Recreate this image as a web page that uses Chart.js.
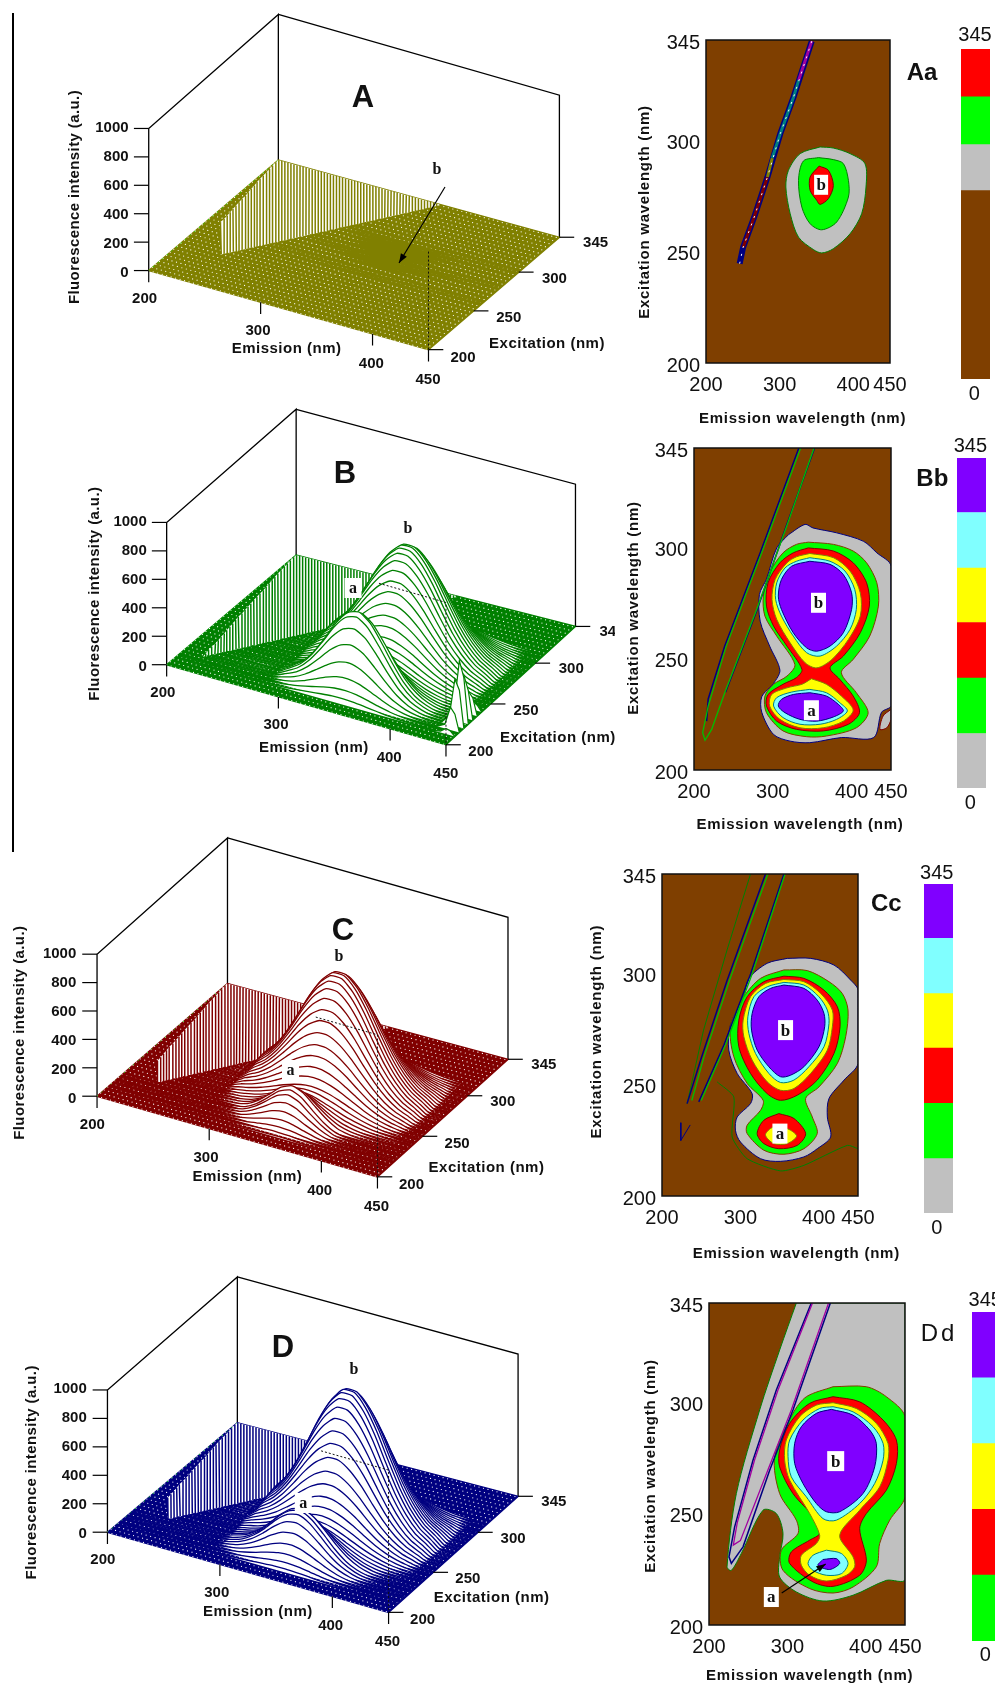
<!DOCTYPE html>
<html>
<head>
<meta charset="utf-8">
<title>Fluorescence EEM panels</title>
<script src="https://cdn.jsdelivr.net/npm/chart.js@4"></script>
<style>
html, body { margin: 0; background: #fff; width: 995px; height: 1686px; overflow: hidden; position: relative; }
canvas { position: absolute; }
#rule { position: absolute; left: 12px; top: 13px; width: 1.5px; height: 839px; background: #000; }
</style>
</head>
<body>
<div id="rule"></div>
<script>
// axis ticks
const emTicks = [200, 300, 400, 450];
const exTicks = [200, 250, 300, 345];
const intensityTicks = [0, 200, 400, 600, 800, 1000];

const gridEm = [200,204,208,212,216,220,224,228,232,236,240,244,248,252,256,260,264,268,272,276,280,284,288,292,296,300,304,308,312,316,320,324,328,332,336,340,344,348,352,356,360,364,368,372,376,380,384,388,392,396,400,404,408,412,416,420,424,428,432,436,440,444,448];
const gridEx = [200,204,208,212,216,220,224,228,232,236,240,244,248,252,256,260,264,268,272,276,280,284,288,292,296,300,304,308,312,316,320,324,328,332,336,340,344];

// surface rows: intensity at each emission column, back row first
const rowEm = [290,300,310,320,330,340,350,360,370,380,390,400,410,420,430];
const rowEx = [310,307.5,305,302.5,300,297.5,295,292.5,290,287.5,285,282.5,280,277.5,275,272.5,270,267.5,265,262.5,260,257.5,255,252.5,250,247.5,245,242.5,240,237.5,235,232.5,230,227.5,225,222.5,220,217.5,215,212.5,210];

const aRowEx = [305,300,295,290,285,280,275,270,265,260,255,250];
const aRows = [
  [0,1,1,2,4,5,6,6,5,4,2,1,1,0,0],
  [1,2,3,5,7,10,12,12,10,7,5,3,2,1,0],
  [1,3,5,8,13,17,20,20,17,13,8,5,3,1,1],
  [2,5,8,14,22,29,35,35,29,22,14,8,5,2,1],
  [3,7,12,20,31,41,49,49,41,31,20,12,7,3,2],
  [4,8,14,24,36,48,58,58,48,36,24,14,8,4,2],
  [4,7,13,22,32,43,52,52,43,32,22,13,7,4,2],
  [3,6,10,17,25,34,41,41,34,25,17,10,6,3,1],
  [2,4,7,12,18,24,29,29,24,18,12,7,4,2,1],
  [1,2,4,7,11,14,17,17,14,11,7,4,2,1,1],
  [1,1,2,4,5,7,9,9,7,5,4,2,1,1,0],
  [0,1,1,2,3,4,5,5,4,3,2,1,1,0,0]
];

const bRows = [
  [12,21,34,51,68,83,91,91,83,68,51,34,21,12,6],
  [16,28,46,68,91,110,122,122,110,91,68,46,28,16,8],
  [21,37,60,89,120,145,160,160,145,120,89,60,37,21,10],
  [26,48,77,114,154,186,205,205,186,154,114,77,48,26,14],
  [33,60,97,144,194,234,259,259,234,194,144,97,60,33,17],
  [41,74,120,178,239,289,320,320,289,239,178,120,74,41,21],
  [49,88,142,212,285,344,380,380,344,285,212,142,88,49,25],
  [58,104,168,250,336,407,449,449,407,336,250,168,104,58,30],
  [67,120,194,288,388,468,517,517,468,388,288,194,120,67,34],
  [74,134,217,322,433,524,578,578,524,433,322,217,134,74,38],
  [82,148,239,356,479,579,639,639,579,479,356,239,148,82,42],
  [89,160,259,386,519,627,693,693,627,519,386,259,160,89,46],
  [94,169,274,407,547,661,731,731,661,547,407,274,169,94,48],
  [97,174,282,420,564,682,753,753,682,564,420,282,174,97,50],
  [98,176,285,424,570,689,761,761,689,570,424,285,176,98,50],
  [97,174,282,420,564,682,753,753,682,564,420,282,174,97,50],
  [94,169,274,407,547,661,731,731,661,547,407,274,169,94,48],
  [89,160,259,386,519,627,693,693,627,519,386,259,160,89,46],
  [82,148,239,356,479,579,639,639,579,479,356,239,148,82,42],
  [74,134,217,322,433,524,578,578,524,433,322,217,134,74,38],
  [67,120,194,288,388,468,517,517,468,388,288,194,120,67,34],
  [58,104,168,250,336,407,449,449,407,336,250,168,104,58,30],
  [49,88,142,212,285,344,380,380,344,285,212,142,88,49,25],
  [41,74,120,178,239,289,320,320,289,239,178,120,74,41,21],
  [33,60,97,144,194,234,259,259,234,194,144,97,60,33,17],
  [27,50,82,121,165,199,218,217,195,160,118,79,49,26,14],
  [24,43,71,106,145,175,191,188,167,135,97,64,39,22,10],
  [21,40,69,105,143,172,187,181,156,122,86,55,32,17,9],
  [22,43,76,119,164,199,213,201,168,125,84,51,28,14,7],
  [26,54,98,155,215,260,276,256,208,149,94,54,28,13,7],
  [32,67,125,201,281,339,359,328,260,182,111,60,29,12,6],
  [39,85,159,257,361,436,459,417,328,226,134,70,33,12,6],
  [45,97,185,299,420,508,534,483,378,257,151,78,35,13,7],
  [46,100,191,311,438,529,555,500,388,261,150,75,33,11,5],
  [44,96,183,299,420,508,533,480,372,251,144,72,32,11,5],
  [38,84,159,260,366,442,463,418,324,218,125,63,28,9,4],
  [30,65,124,202,285,344,361,325,252,170,98,49,21,7,3],
  [21,45,86,140,197,238,250,225,175,117,68,34,15,5,2],
  [13,28,53,87,123,148,155,140,109,73,42,21,9,3,1],
  [7,16,30,48,68,82,86,78,60,40,23,12,5,2,1],
  [3,8,15,24,33,40,42,38,29,20,11,6,3,1,0]
];

const cRows = [
  [12,22,36,53,71,86,95,95,86,71,53,36,22,12,6],
  [16,29,47,70,95,115,126,126,115,95,70,47,29,16,8],
  [21,38,62,92,124,150,166,166,150,124,92,62,38,21,11],
  [28,49,80,119,160,193,213,213,193,160,119,80,49,28,14],
  [35,62,101,150,201,243,269,269,243,201,150,101,62,35,18],
  [43,76,124,185,249,301,332,332,301,249,185,124,76,43,22],
  [51,91,148,220,296,358,395,395,358,296,220,148,91,51,26],
  [60,107,175,260,349,422,466,466,422,349,260,175,107,60,31],
  [69,124,201,299,403,487,537,537,487,403,299,201,124,69,35],
  [78,138,225,334,450,544,600,600,544,450,334,225,138,78,40],
  [86,153,249,370,497,601,664,664,601,497,370,249,153,86,44],
  [93,166,269,400,539,652,719,719,652,539,400,269,166,93,47],
  [98,175,284,422,568,687,758,758,687,568,422,284,175,98,50],
  [101,180,293,436,586,709,782,782,709,586,436,293,180,101,51],
  [102,182,296,440,592,716,790,790,716,592,440,296,182,102,52],
  [101,180,293,436,586,709,782,782,709,586,436,293,180,101,51],
  [98,175,284,422,568,687,758,758,687,568,422,284,175,98,50],
  [93,166,269,400,539,652,719,719,652,539,400,269,166,93,47],
  [86,153,249,370,497,601,664,664,601,497,370,249,153,86,44],
  [78,138,225,334,450,544,600,600,544,450,334,225,138,78,40],
  [69,124,201,299,403,487,537,537,487,403,299,201,124,69,35],
  [60,107,175,260,349,422,466,466,422,349,260,175,107,60,31],
  [51,91,148,220,296,358,395,395,358,296,220,148,91,51,26],
  [43,76,124,185,249,301,332,332,301,249,185,124,76,43,22],
  [35,62,101,150,201,243,269,269,243,201,150,101,62,35,18],
  [28,49,80,119,160,193,213,213,193,160,119,80,49,28,14],
  [21,38,62,92,124,150,166,166,150,124,92,62,38,21,11],
  [16,30,50,78,110,138,153,149,130,103,73,48,29,16,8],
  [12,24,41,68,100,130,146,139,115,86,58,38,22,12,6],
  [10,19,36,67,105,144,163,151,116,80,49,30,17,9,5],
  [7,15,33,68,116,165,188,170,124,77,42,23,12,6,3],
  [7,14,32,74,133,194,222,198,138,81,39,19,10,5,2],
  [5,12,31,77,144,213,245,216,147,82,35,16,7,3,2],
  [2,7,23,67,131,200,230,200,131,67,23,7,2,0,0],
  [2,6,21,61,119,182,209,182,119,61,21,6,2,0,0],
  [1,5,17,49,96,146,168,146,96,49,17,5,1,0,0],
  [1,4,12,35,68,104,120,104,68,35,12,4,1,0,0],
  [1,2,7,22,43,65,75,65,43,22,7,2,1,0,0],
  [0,1,4,12,24,36,41,36,24,12,4,1,0,0,0],
  [0,1,2,6,11,17,20,17,11,6,2,1,0,0,0],
  [0,0,1,3,5,8,9,8,5,3,1,0,0,0,0]
];

const dRows = [
  [14,26,42,62,84,101,111,111,101,84,62,42,26,14,7],
  [19,34,56,83,111,135,149,149,135,111,83,56,34,19,10],
  [25,45,73,109,146,177,195,195,177,146,109,73,45,25,13],
  [32,58,94,140,188,227,251,251,227,188,140,94,58,32,16],
  [40,73,118,176,237,286,316,316,286,237,176,118,73,40,21],
  [50,90,146,217,292,353,390,390,353,292,217,146,90,50,26],
  [60,107,174,259,348,421,465,465,421,348,259,174,107,60,31],
  [70,126,205,305,411,496,548,548,496,411,305,205,126,70,36],
  [81,146,237,352,473,572,632,632,572,473,352,237,146,81,41],
  [90,163,264,393,529,639,706,706,639,529,393,264,163,90,46],
  [100,180,292,434,585,706,780,780,706,585,434,292,180,100,51],
  [108,195,317,470,633,765,845,845,765,633,470,317,195,108,56],
  [114,205,334,496,668,807,892,892,807,668,496,334,205,114,59],
  [118,212,345,512,689,833,920,920,833,689,512,345,212,118,60],
  [119,214,348,517,696,841,929,929,841,696,517,348,214,119,61],
  [118,212,345,512,689,833,920,920,833,689,512,345,212,118,60],
  [114,205,334,496,668,807,892,892,807,668,496,334,205,114,59],
  [108,195,317,470,633,765,845,845,765,633,470,317,195,108,56],
  [100,180,292,434,585,706,780,780,706,585,434,292,180,100,51],
  [90,163,264,393,529,639,706,706,639,529,393,264,163,90,46],
  [81,146,237,352,473,572,632,632,572,473,352,237,146,81,41],
  [70,126,205,305,411,496,548,548,496,411,305,205,126,70,36],
  [60,107,174,259,348,421,465,465,421,348,259,174,107,60,31],
  [50,90,146,217,292,353,390,390,353,292,217,146,90,50,26],
  [40,73,118,176,237,286,316,316,286,237,176,118,73,40,21],
  [32,59,96,144,194,235,259,258,232,191,142,95,58,32,16],
  [26,48,78,118,160,195,214,212,189,154,113,75,46,25,13],
  [21,39,67,103,141,172,189,184,161,127,91,60,35,19,10],
  [18,36,63,99,140,171,185,176,149,114,78,49,29,15,7],
  [18,36,67,110,158,195,210,195,158,114,74,43,24,12,5],
  [17,38,76,127,186,231,247,224,176,121,73,40,20,9,4],
  [19,44,89,152,225,281,298,268,206,136,78,40,19,7,3],
  [21,47,98,171,254,317,336,299,226,147,82,39,17,7,2],
  [18,45,96,168,253,317,335,295,219,137,72,32,12,3,0],
  [17,43,92,161,243,304,322,283,210,132,69,31,12,3,0],
  [15,38,80,140,211,265,280,246,183,114,60,27,10,3,0],
  [12,29,62,109,164,206,218,192,142,89,47,21,8,2,0],
  [8,20,43,76,114,143,151,133,99,62,32,14,5,1,0],
  [5,13,27,47,71,89,94,83,61,38,20,9,3,1,0],
  [3,7,15,26,39,49,52,46,34,21,11,5,2,0,0],
  [1,3,7,13,19,24,25,22,17,10,5,2,1,0,0]
];

// little fin at the front right corner of panel B
const finEm = [430,437,442,446,450];
const finEx = [240,235,230,225,220,215,210];
const finRows = [
  [0,20,60,40,0],
  [0,40,160,120,0],
  [0,60,300,200,0],
  [0,80,430,320,0],
  [0,60,330,260,0],
  [0,30,160,120,0],
  [0,10,40,30,0]
];

// stripes above the scatter ridge: ridge position, and where each stripe ends
const ridgeEm = [218,219.5,221,222.5,224,225.5,227,228.5,230,231.5,233,234.5,236,237.5,239,240.5,242,243.5,245,246.5,248,249.5,251,252.5,254,255.5,257,258.5,260,261.5,263,264.5,266,267.5,269,270.5,272,273.5,275,276.5,278,279.5,281,282.5,284,285.5,287,288.5,290,291.5,293,294.5,296,297.5,299,300.5,302,303.5,305,306.5,308,309.5,311,312.5,314,315.5,317,318.5,320,321.5,323,324.5,326,327.5,329,330.5,332,333.5,335,336.5,338,339.5,341,342.5,344];
const stripeEndEm = [218,217.3,216.5,216,216,215.3,214.5,214,213,212.4,211.7,211,210,210,209.4,208.8,208,207.3,206.8,206.2,206,205.2,204.5,204,203,202.4,202,201.6,201,200.4,200,200.4,203.1,205.8,208.5,211.2,213.9,216.6,219.3,222,224.7,227.4,230.1,232.8,235.5,238.2,240.9,243.6,246.3,249,251.7,254.4,257.1,259.8,262.5,265.2,267.9,270.6,273.3,276,278.7,281.4,284.1,286.8,289.5,292.2,294.9,297.6,300.3,303,305.7,308.4,311.1,313.8,316.5,319.2,321.9,324.6,327.3,330,332.7,335.4,338.1,340.8,343.5];
const stripeEndEx = [218,222.1,226.3,230.4,234.6,238.7,242.8,247,251,255.3,259.4,263.5,267.7,271.8,276,280.1,284.2,288.4,292.5,296.7,300.8,304.9,309.1,313.2,317.4,321.5,325.6,329.8,333.9,338,342.2,345,345,345,345,345,345,345,345,345,345,345,345,345,345,345,345,345,345,345,345,345,345,345,345,345,345,345,345,345,345,345,345,345,345,345,345,345,345,345,345,345,345,345,345,345,345,345,345,345,345,345,345,345,345];

// colour bars, bottom segment first
const aBarValues = [197,48,50,50];
const bBarValues = [57,58,58,57,58,57];
const cBarValues = [57,58,58,57,58,57];
const dBarValues = [69,69,69,69,69];

// contours as [emission, excitation]
const aGray = [[355,297],[328,294],[312,286.5],[308.5,279],[314.4,267],[325.7,256.5],[346,250.9],[357.3,249.4],[373,251.3],[395.7,258],[411.5,267],[417.4,279],[416,289.5],[395.7,294],[373,296.5]];
const aGreen = [[352.8,292.2],[332.4,290.7],[325.7,282],[330.2,270],[341.5,262.5],[357.3,259.8],[377.6,263.3],[393.5,274.5],[393.5,282],[386.7,289.5],[373,291.3]];
const aRed = [[353.7,288.4],[341.5,283.5],[341.5,277.5],[350.5,273],[355,271.2],[366.3,273.8],[373,279.7],[366.3,286.5]];
const aStreak = [[245.7,244.6],[250.5,252],[265.5,265.5],[283.5,283.5],[301,303],[319,319.4],[343.7,344.5]];
const aStreakRed = [[250.5,252],[265.5,265.5],[283.5,283.5]];
const aStreakOlive = [[283.5,283.5],[290,292]];
const aStreakTeal = [[290,292],[301,303],[319,319.4],[326,327]];
const aStreakPurple = [[326,327],[343.7,344.5]];

const bGray = [[320,306],[341,310.6],[351,309],[381,306.8],[415,303],[432,297.8],[450,291.8],[450,229],[438,226],[428,214.6],[387,214.6],[347,212.3],[322,213],[301,216],[286,226],[286,233],[301,239],[309,245],[296,255.8],[284,267],[283,279],[292,286],[305,300]];
const bGreen = [[345,302.6],[377,301.6],[402,298.6],[419,293.3],[432,284.3],[434,273.8],[423,260.3],[402,249.8],[387,243.8],[406,234.8],[421,225.8],[406,219],[368,215.3],[343,215],[313,217.6],[292,225.8],[290,233.3],[301,238.6],[318,242.3],[328,247.5],[305,260.3],[290,269.3],[288,278.3],[296,288.8],[313,297.8],[330,301.6]];
const bRed = [[345,300],[377,298.6],[402,293.3],[419,284.3],[422.5,273.8],[411,261.8],[389.5,251.3],[372.6,246],[385,240.8],[402,233.3],[410,225.8],[396,220.6],[364,217.6],[330,218.3],[305,222],[292,228.8],[294,234],[313,238.6],[330,241.6],[337,245.3],[318,255.8],[301,264.8],[292,273.8],[294,284.3],[309,293.3],[326,297.8]];
const bYellowB = [[347,297.5],[377,295.6],[398,289.6],[411,279.8],[411,269.3],[396,258.8],[375,249.8],[356,246],[341,248.3],[322,257.3],[305,267.8],[299,276.8],[303,285.8],[318,293.3],[330,296]];
const bYellowA = [[349,241.1],[368,238.6],[387,233.3],[402,227],[389.5,222],[364,219],[334.5,219],[309,222.8],[296,228.8],[298.6,234],[318,237],[337,238.6]];
const bCyanB = [[347,295.6],[372.6,294],[391.6,289.6],[404,281.3],[406,272.3],[398,263.3],[381,255.8],[360,251.3],[343,252.8],[326,260.3],[311,269.3],[303.6,276.8],[305,284.3],[315.5,291],[330,294]];
const bCyanA = [[347,236.3],[368,234.8],[385,230.3],[394.6,226.6],[381,222.8],[360,220.6],[334.5,220.6],[313,223.6],[301,228.8],[305,232.6],[324,235.1]];
const bPurpleB = [[347,294],[372.6,292.6],[389.5,288],[400,279.8],[400,272.3],[389.5,261.8],[372.6,255.8],[355.7,253.5],[343,255],[326,261.8],[311,272.3],[307,278.3],[311,285.8],[324,291.8]];
const bPurpleA = [[347,234.8],[368,233.3],[383,229.6],[389.5,226.6],[377,223.9],[355.7,222],[334.5,222.8],[315.5,225.8],[307,228.8],[311,231.8],[326,234]];
const bStreak = [[335.4,345],[286,297.8],[241,255.8],[218,228.8],[211,216.8],[214,213.4],[222.4,218.3],[239,234.8],[279.5,272.3],[317.6,309.8],[352.3,345]];
const bStreakNavyL = [[333,345],[284,297.8],[239,255.8],[218,232],[216,222]];
const bStreakNavyR = [[240,235],[280,272],[317,309.8],[353,345]];
const bCorner = [[450,227.3],[440,224.3],[436,218.3],[444.6,219],[450,222.8]];

const cGray = [[359.8,307],[389.6,307],[419.4,304],[440.7,297.2],[450,292.7],[450,259.7],[432.2,252.2],[413,243.9],[410.9,235.6],[415.1,226.6],[398.1,221.3],[381,217.6],[351.2,215.6],[325.7,216.8],[300.1,224.3],[293.7,229.6],[295.9,235.6],[312.9,241.6],[315,246.1],[295.9,255.2],[285.2,265.7],[287.3,277],[304.4,290.5],[310.8,298],[334.2,304.8]];
const cGreen = [[355.5,301.8],[385.3,301.5],[413,296.5],[430,291.2],[437.3,283.7],[434.3,271.7],[423.7,259.7],[400.2,249.1],[383.2,243.9],[391.7,235.6],[398,228.1],[381,221.3],[355.5,218.8],[330,220.6],[308.6,228.1],[308.6,231.9],[325.7,238.6],[329,243.1],[308.6,250.7],[291.6,262.7],[287.3,276.2],[304.4,289.7],[325.7,298]];
const cRedB = [[355.5,299],[381,298],[406.6,292.7],[423.7,285.2],[427.1,276.2],[419.4,264.2],[398,252.2],[372.5,245.4],[351.2,243.1],[334.2,246.1],[312.9,255.2],[298,267.2],[298,279.2],[308.6,289.7],[329.9,296.5]];
const cRedA = [[349,237.1],[368.3,234.9],[383.2,228.1],[372.5,222.8],[349,221.3],[329.9,223.6],[321.4,228.1],[329.9,234.1]];
const cYellowB = [[355.5,297.5],[381,296.5],[402.4,291.2],[417.3,283.7],[417.3,276.2],[410.9,265.7],[389.6,255.2],[368.3,248.4],[351.2,247.6],[334.2,251.4],[315,261.2],[304.4,271.7],[303.5,279.2],[312.9,289.7],[332,295.7]];
const cYellowA = [[349,231.9],[364,229.6],[371.7,226.9],[359.8,223.6],[342.7,223.6],[332,227.4],[338.4,230.4]];
const cCyan = [[355.5,296.2],[381,295],[400.2,289.7],[410.9,283.7],[413,277.7],[406.6,267.2],[387.4,258.2],[368.3,252.2],[351.2,251.1],[336.3,255.2],[319.3,264.2],[310.8,273.2],[309.5,280.7],[317.2,289.7],[334.2,294.2]];
const cPurple = [[355.5,295],[381,293.5],[398,288.2],[406.6,282.2],[407.5,276.2],[400.2,267.2],[381,258.2],[364,254.4],[351.2,253.7],[336.3,258.2],[321.4,265.7],[314.2,274.7],[315,282.2],[323.5,289.7],[338.5,293.5]];
const cLineL = [[332,345],[283,297],[250,262],[232,241.6]];
const cLineG = [[335,345],[286,297],[253,262],[238,243]];
const cLineR = [[355.5,345],[313,300],[279,268],[246.9,242.4]];
const cLineG2 = [[357,345],[315,300],[281,268],[250,243]];
const cThin = [[312.9,345],[283,310.8],[253,274.7],[232,241.6]];
const cFloorLine = [[270.3,251.4],[291.6,244.6],[289.5,226.6],[308.6,216.8],[351.2,211.3],[381,213.8],[436.4,222.8],[450,221.3]];
const cSquiggle = [[224,233],[224,225],[236,232]];

const dGray = [[311.4,345],[290.1,323.8],[264.6,296.8],[234.9,259.2],[223,226.2],[228.5,224.6],[241.2,232.2],[268.9,251.7],[285.9,250.2],[294.4,241.2],[290.1,230.7],[290.1,221.6],[311.4,214.9],[345.4,210.8],[383.7,213.4],[426.2,220.1],[450,220.6],[450,345]];
const dGreen = [[358.2,307.3],[400.7,307.3],[426.2,302.8],[450,293.8],[450,257.7],[430.5,247.2],[417.7,236.7],[413.4,226.2],[383.7,217.1],[358.2,214.4],[328.4,216.4],[294.4,224.6],[292.3,233.7],[313.5,241.2],[311.4,247.2],[290.1,259.2],[283.8,275.8],[307.1,295.3],[324.2,302.8]];
const dRed = [[358.2,302.8],[392.2,300.5],[422,292.3],[439,283.3],[439,272.7],[426.2,260.7],[400.7,250.2],[392.2,243.4],[400.7,229.2],[392.2,222.4],[358.2,217.4],[332.7,219.4],[302.9,227.7],[305,232.9],[328.4,238.2],[341.2,241.2],[336.9,247.2],[307.1,259.2],[290.1,271.2],[290.1,278.8],[302.9,290.8],[328.4,299.8]];
const dYellow = [[358.2,300.1],[387.9,297.5],[413.4,290.8],[428.3,281.8],[428.3,274.2],[417.7,262.2],[392.2,251.7],[366.7,240.4],[383.7,230.7],[385.8,226.2],[375.2,222.4],[349.7,219.8],[328.4,222.4],[317.8,226.9],[317.8,231.4],[336.9,236.7],[341.2,240.4],[328.4,250.2],[302.9,265.2],[296.5,274.2],[298.6,283.3],[315.7,293.8],[336.9,299]];
const dCyanB = [[358.2,298.3],[383.7,296],[409.2,289.3],[422,281.8],[422,274.2],[411.3,263.7],[392.2,254.7],[362.4,247.2],[345.4,247.9],[324.2,257.7],[305,266.7],[300.8,275.8],[302.9,283.3],[319.9,292.3],[341.2,297.5]];
const dCyanA = [[349.7,233.7],[368.8,232.2],[377.3,227.7],[368.8,223.1],[349.7,222.4],[332.7,224.6],[326.3,227.7],[332.7,231.4]];
const dPurpleB = [[356,297.1],[383.7,294.5],[405,287.8],[413.4,281.8],[411.3,271.2],[396.4,259.2],[366.7,251],[349.7,251],[336.9,254.7],[319.9,263.7],[309.3,272.7],[309.3,281.8],[317.8,289.3],[336.9,295.3]];
const dPurpleA = [[345.4,229.5],[362.4,229.9],[366.7,227.7],[353.9,225],[339,226.9]];
const dStreak = [[330.5,345],[285.9,305.8],[256.1,274.2],[232.7,244.2],[225.5,230.7],[228.5,227.7],[243.4,235.2],[277.4,269.7],[307.1,296.8],[354.8,345]];
const dStreakInner = [[332,345],[288,305.8],[258,274.2],[236,246],[231,236],[240,238],[275,269.7],[305,296.8],[352.5,345]];

const GRAY = "#c0c0c0", GREEN = "#00ff00", RED = "#ff0000", YELLOW = "#ffff00", CYAN = "#80ffff", PURPLE = "#8000ff", BROWN = "#7f3f00";
const barColors = [BROWN, GRAY, GREEN, RED];
const fullBarColors = [GRAY, GREEN, RED, YELLOW, CYAN, PURPLE];
const dBarColors = [GREEN, RED, YELLOW, CYAN, PURPLE];

const outline = { [GRAY]: "#000080", [GREEN]: "#7f3f00", [RED]: "#800000", [YELLOW]: "#808000", [CYAN]: "#008080", [PURPLE]: "#000080" };

const SANS = '"Liberation Sans"';
const baseOptions = () => ({
  responsive: false,
  animation: false,
  devicePixelRatio: 1,
  events: [],
  plugins: { legend: { display: false }, tooltip: { enabled: false } },
});

function makeCanvas(rect) {
  const c = document.createElement("canvas");
  c.width = rect.width;
  c.height = rect.height;
  c.style.left = rect.left + "px";
  c.style.top = rect.top + "px";
  document.body.appendChild(c);
  return c;
}

function drawTexts(ctx, rect, items) {
  items.forEach((it) => {
    ctx.save();
    ctx.translate(it.x - rect.left, it.y - rect.top);
    if (it.rot) ctx.rotate(it.rot);
    ctx.font = it.font;
    ctx.letterSpacing = it.spacing || "0px";
    ctx.textAlign = it.align || "center";
    ctx.textBaseline = "middle";
    if (it.box) {
      ctx.fillStyle = "#fff";
      ctx.fillRect(-it.box[0] / 2, -it.box[1] / 2, it.box[0], it.box[1]);
    }
    ctx.fillStyle = "#111";
    ctx.fillText(it.t, 0, 1);
    ctx.restore();
  });
}

function drawArrow(ctx, rect, a) {
  const x0 = a.from[0] - rect.left, y0 = a.from[1] - rect.top;
  const x1 = a.to[0] - rect.left, y1 = a.to[1] - rect.top;
  const ang = Math.atan2(y1 - y0, x1 - x0);
  ctx.save();
  ctx.strokeStyle = ctx.fillStyle = "#000";
  ctx.lineWidth = 1.2;
  ctx.beginPath();
  ctx.moveTo(x0, y0);
  ctx.lineTo(x1, y1);
  ctx.stroke();
  ctx.beginPath();
  ctx.moveTo(x1, y1);
  ctx.lineTo(x1 - 10 * Math.cos(ang - 0.35), y1 - 10 * Math.sin(ang - 0.35));
  ctx.lineTo(x1 - 10 * Math.cos(ang + 0.35), y1 - 10 * Math.sin(ang + 0.35));
  ctx.fill();
  ctx.restore();
}

const line = (pts, color, width, extra) => ({
  data: pts, showLine: true, borderColor: color, borderWidth: width, pointRadius: 0, fill: false, ...extra,
});

// ---- 3D wireframe panels ----
function surface(p) {
  const project = (em, ex, i) => {
    const u = (em - 200) / 250, v = (ex - 200) / 145;
    const w = [(1 - u) * (1 - v), u * (1 - v), (1 - u) * v, u * v];
    return {
      x: w[0] * p.O[0] + w[1] * p.E[0] + w[2] * p.X[0] + w[3] * p.R[0],
      y: w[0] * p.O[1] + w[1] * p.E[1] + w[2] * p.X[1] + w[3] * p.R[1] - (i / 1000) * p.zPx,
    };
  };
  const ds = [];

  // box
  ds.push(line([project(200,200,0), project(200,200,1000), project(200,345,1025), project(200,345,0)], "#000", 1.3));
  ds.push(line([project(200,345,1025), project(450,345,1000), project(450,345,0)], "#000", 1.3));

  // floor
  const floor = [project(200,200,0), project(450,200,0), project(450,345,0), project(200,345,0), project(200,200,0)];
  ds.push(line(floor, p.color, 1.5, { fill: "shape", backgroundColor: p.color }));

  // floor dots
  const dots = [];
  gridEx.forEach((ex) => gridEm.forEach((em) => dots.push(project(em, ex, 0))));
  ds.push({ data: dots, showLine: false, pointRadius: 0.6, pointBackgroundColor: "#fff", pointBorderWidth: 0 });
  ds.push(line([project(200,200,0), project(200,345,0)], p.edge, 1, { borderDash: [1, 5] }));

  // stripes above the ridge
  const idx = ridgeEm.map((e, i) => i).filter((i) => ridgeEm[i] >= p.ridge);
  const band = idx.map((i) => project(ridgeEm[i], ridgeEm[i], 0))
    .concat(idx.slice().reverse().map((i) => project(stripeEndEm[i], stripeEndEx[i], 0)));
  ds.push(line(band, "#fff", 0, { fill: "shape", backgroundColor: "#fff" }));
  const stripes = [];
  idx.forEach((i) => {
    stripes.push(project(ridgeEm[i], ridgeEm[i], 0), project(stripeEndEm[i], stripeEndEx[i], 0), { x: NaN, y: NaN });
  });
  ds.push(line(stripes, p.color, 1.5));

  // rows, back to front
  p.rowEx.forEach((ex, r) => {
    const from = ex >= p.ridge ? ex : 200;
    const pts = [project(from, ex, 0)];
    if (from < 280) pts.push(project(280, ex, 0));
    rowEm.forEach((em, j) => { if (em > from) pts.push(project(em, ex, p.rows[r][j])); });
    pts.push(project(440, ex, 0), project(450, ex, 0));
    ds.push(line(pts, p.color, p.rowWidth, { fill: "shape", backgroundColor: p.rowFill, tension: 0.2 }));
  });
  if (p.fin) {
    finEx.forEach((ex, r) => {
      const pts = finEm.map((em, j) => project(em, ex, finRows[r][j]));
      ds.push(line(pts, p.color, 1.2, { fill: "shape", backgroundColor: "#fff" }));
    });
  }

  // see-through front edges
  const edge = p.edgeFrom
    ? [project(p.edgeFrom, 200, 1000), project(450, 200, 1000), project(450, 200, 0)]
    : [project(450, 200, p.edgeTop), project(450, 200, 0)];
  ds.push(line(edge, "#111", 1, { borderDash: [2, 2] }));

  // tick marks
  intensityTicks.forEach((v) => {
    const a = project(200, 200, v);
    ds.push(line([a, { x: a.x - 15, y: a.y }], "#000", 1.2));
  });
  emTicks.forEach((v) => {
    const a = project(v, 200, 0);
    ds.push(line([a, { x: a.x, y: a.y + 12 }], "#000", 1.2));
  });
  exTicks.forEach((v) => {
    const a = project(450, v, 0);
    ds.push(line([a, { x: a.x + 15, y: a.y }], "#000", 1.2));
  });
  ds.forEach((d, i) => { d.order = -i; });

  // texts
  const tickFont = `bold 15px ${SANS}`;
  const texts = [];
  intensityTicks.forEach((v) => {
    const a = project(200, 200, v);
    texts.push({ t: String(v), x: a.x - 18, y: a.y, font: tickFont, align: "right" });
  });
  emTicks.forEach((v) => {
    const a = project(v, 200, 0);
    texts.push({ t: String(v), x: a.x - 2, y: a.y + 26, font: tickFont });
  });
  exTicks.forEach((v) => {
    const a = project(450, v, 0);
    texts.push({ t: String(v), x: a.x + 33, y: a.y + 4, font: tickFont });
  });
  const labelFont = `bold 15px ${SANS}`;
  texts.push({ t: "Fluorescence intensity (a.u.)", x: p.O[0] + p.zLabel[0], y: p.O[1] + p.zLabel[1], rot: -Math.PI / 2, font: labelFont, spacing: "0.4px" });
  texts.push({ t: "Emission (nm)", x: p.O[0] + p.emLabel[0], y: p.O[1] + p.emLabel[1], font: labelFont, spacing: "0.5px" });
  texts.push({ t: "Excitation (nm)", x: p.E[0] + p.exLabel[0], y: p.E[1] + p.exLabel[1], font: labelFont, spacing: "0.5px" });
  texts.push({ t: p.name, x: p.namePos[0], y: p.namePos[1], font: `bold 31px ${SANS}` });
  p.marks.forEach((m) => texts.push({ t: m[0], x: m[1], y: m[2], font: 'bold 16px "Liberation Serif"', box: m[3] ? [17, 20] : null }));

  new Chart(makeCanvas(p.rect), {
    type: "scatter",
    data: { datasets: ds },
    options: {
      ...baseOptions(),
      scales: {
        x: { type: "linear", display: false, min: p.rect.left, max: p.rect.left + p.rect.width },
        y: { type: "linear", display: false, min: p.rect.top, max: p.rect.top + p.rect.height, reverse: true },
      },
    },
    plugins: [{
      id: "panelText",
      afterDraw(chart) {
        drawTexts(chart.ctx, p.rect, texts);
        if (p.arrow) drawArrow(chart.ctx, p.rect, p.arrow);
      },
    }],
  });
}

// ---- contour panels ----
function contour(p) {
  const padTop = 18, padRight = 75, leftSpace = 72, bottomSpace = 70;
  const rect = {
    left: p.l - leftSpace, top: p.t - padTop,
    width: Math.round(p.r - p.l + leftSpace + padRight), height: Math.round(p.b - p.t + padTop + bottomSpace),
  };
  const toPts = (arr) => arr.map((q) => ({ x: q[0], y: q[1] }));
  const ds = [];
  p.layers.forEach((layer) => {
    const pts = toPts(layer[0].concat([layer[0][0]]));
    ds.push(line(pts, layer[2] || outline[layer[1]], 1, { fill: "shape", backgroundColor: layer[1], tension: 0.3 }));
  });
  p.lines.forEach((l) => {
    ds.push(line(toPts(l[0]), l[1], l[2], { tension: l[3] || 0, borderDash: l[4] || [] }));
  });
  ds.forEach((d, i) => { d.order = -i; });

  const tickFont = { family: "Liberation Sans", size: 20 };
  const texts = [
    { t: "Excitation wavelength (nm)", x: p.yTitle[0], y: p.yTitle[1], rot: -Math.PI / 2, font: `bold 15px ${SANS}`, spacing: "0.75px" },
    { t: "Emission wavelength (nm)", x: p.xTitle[0], y: p.xTitle[1], font: `bold 15px ${SANS}`, spacing: "0.75px" },
    { t: p.name, x: p.namePos[0], y: p.namePos[1], font: p.nameFont || `bold 24px ${SANS}`, spacing: p.nameSpacing },
  ];

  new Chart(makeCanvas(rect), {
    type: "scatter",
    data: { datasets: ds },
    options: {
      ...baseOptions(),
      layout: { padding: { top: padTop, right: padRight } },
      scales: {
        x: {
          type: "linear", min: 200, max: 450,
          afterBuildTicks: (s) => { s.ticks = emTicks.map((v) => ({ value: v })); },
          afterFit: (s) => { s.height = bottomSpace; },
          grid: { display: false, drawTicks: false }, border: { display: false },
          ticks: { autoSkip: false, maxRotation: 0, font: tickFont, color: "#111", padding: 10 },
        },
        y: {
          type: "linear", min: 200, max: 345,
          afterBuildTicks: (s) => { s.ticks = exTicks.map((v) => ({ value: v })); },
          afterFit: (s) => { s.width = leftSpace; },
          grid: { display: false, drawTicks: false }, border: { display: false },
          ticks: { autoSkip: false, font: tickFont, color: "#111", padding: 6, labelOffset: 3 },
        },
      },
    },
    plugins: [{
      id: "contourParts",
      beforeDatasetsDraw(chart) {
        const a = chart.chartArea;
        chart.ctx.fillStyle = BROWN;
        chart.ctx.fillRect(a.left, a.top, a.width, a.height);
      },
      afterDatasetsDraw(chart) {
        const a = chart.chartArea, ctx = chart.ctx;
        ctx.strokeStyle = "#111";
        ctx.lineWidth = 1.5;
        ctx.strokeRect(a.left, a.top, a.width, a.height);
      },
      afterDraw(chart) {
        const sx = chart.scales.x, sy = chart.scales.y;
        const marks = p.marks.map((m) => ({
          t: m[0], x: rect.left + sx.getPixelForValue(m[1]), y: rect.top + sy.getPixelForValue(m[2]),
          font: 'bold 17px "Liberation Serif"', box: [m[3] || 15, 20],
        }));
        if (p.arrow) drawArrow(chart.ctx, rect, p.arrow);
        drawTexts(chart.ctx, rect, texts.concat(marks));
      },
    }],
  });
}

// ---- colour bars ----
function colorBar(p) {
  const pad = 10, padTop = 30, padBottom = 30;
  const rect = { left: p.l - pad, top: p.t - padTop, width: p.r - p.l + pad * 2, height: p.b - p.t + padTop + padBottom };
  const texts = [
    { t: "345", x: p.top[0], y: p.top[1], font: `20px ${SANS}` },
    { t: "0", x: p.bottom[0], y: p.bottom[1], font: `20px ${SANS}` },
  ];
  new Chart(makeCanvas(rect), {
    type: "bar",
    data: {
      labels: ["scale"],
      datasets: p.values.map((v, i) => ({ data: [v], backgroundColor: p.colors[i], barPercentage: 1, categoryPercentage: 1, borderWidth: 0 })),
    },
    options: {
      ...baseOptions(),
      layout: { padding: { left: pad, right: pad, top: padTop, bottom: padBottom } },
      scales: {
        x: { stacked: true, display: false },
        y: { stacked: true, display: false, min: 0, max: 345 },
      },
    },
    plugins: [{ id: "barText", afterDraw(chart) { drawTexts(chart.ctx, rect, texts); } }],
  });
}

surface({
  name: "A", color: "#808000", edge: "#00ff00", rows: aRows, rowEx: aRowEx, ridge: 236, rowWidth: 1, rowFill: "#808000",
  rect: { left: 0, top: 0, width: 625, height: 400 },
  O: [146.6, 272], E: [430, 352.7], X: [277.9, 159.3], R: [562.6, 238], zPx: 145,
  zLabel: [-73, -75], emLabel: [140, 76], exLabel: [117, -10], namePos: [363, 97],
  edgeTop: 690, edgeFrom: 0,
  marks: [["b", 437, 169, false]],
  arrow: { from: [445, 187], to: [399, 263] },
});
surface({
  name: "B", color: "#008000", edge: "#00c000", rows: bRows, rowEx: rowEx, ridge: 218, fin: true, rowWidth: 1.3, rowFill: "#fff",
  rect: { left: 0, top: 400, width: 615, height: 425 },
  O: [164.8, 665.7], E: [447.8, 747.3], X: [296, 554], R: [579, 626.7], zPx: 145,
  zLabel: [-71, -72], emLabel: [149, 81], exLabel: [110, -10], namePos: [345, 473],
  edgeFrom: 390,
  marks: [["b", 408, 528, false], ["a", 353, 588, true]],
});
surface({
  name: "C", color: "#800000", edge: "#00ff00", rows: cRows, rowEx: rowEx, ridge: 230, rowWidth: 1.3, rowFill: "#fff",
  rect: { left: 0, top: 830, width: 600, height: 390 },
  O: [94.3, 1097.7], E: [378.5, 1180], X: [226.5, 982.7], R: [510.8, 1060], zPx: 145,
  zLabel: [-75, -65], emLabel: [153, 78], exLabel: [108, -13], namePos: [343, 930],
  edgeFrom: 395,
  marks: [["b", 339, 956, false], ["a", 290.5, 1070, true]],
});
surface({
  name: "D", color: "#000080", edge: "#00ff00", rows: dRows, rowEx: rowEx, ridge: 230, rowWidth: 1.3, rowFill: "#fff",
  rect: { left: 0, top: 1265, width: 620, height: 421 },
  O: [104.8, 1533.3], E: [389.6, 1615], X: [236.4, 1421.7], R: [520.8, 1496.7], zPx: 145,
  zLabel: [-74, -61], emLabel: [153, 78], exLabel: [102, -18], namePos: [283, 1347],
  edgeFrom: 390,
  marks: [["b", 354, 1369, false], ["a", 303.3, 1503, true]],
});

contour({
  name: "Aa", l: 705.7, r: 890, t: 39.7, b: 362.7,
  yTitle: [643.3, 211.7], xTitle: [802.3, 417.3], namePos: [921.7, 71.7],
  layers: [[aGray, GRAY, "#008000"], [aGreen, GREEN, "#008000"], [aRed, RED]],
  lines: [
    [aStreak, "#000080", 6],
    [aStreakRed, "#800000", 3],
    [aStreakOlive, "#808000", 3],
    [aStreakTeal, "#008080", 3],
    [aStreakPurple, "#a000a0", 3],
    [aStreak, "#ffffff", 1, 0, [2, 6]],
  ],
  marks: [["b", 356.4, 280, 14]],
});
contour({
  name: "Bb", l: 694, r: 891, t: 448.3, b: 770.7,
  yTitle: [633.3, 608.3], xTitle: [800, 824.3], namePos: [932.3, 478.3],
  layers: [[bGray, GRAY], [bGreen, GREEN], [bRed, RED], [bYellowB, YELLOW], [bYellowA, YELLOW], [bCyanB, CYAN], [bCyanA, CYAN], [bPurpleB, PURPLE], [bPurpleA, PURPLE], [bCorner, GRAY, "#800000"]],
  lines: [
    [bStreakNavyL, "#000080", 1.5],
    [bStreakNavyR, "#000080", 1.5],
    [bStreak, "#00c000", 1.3],
  ],
  marks: [["b", 358, 275.3, 15], ["a", 349, 226.9, 15]],
});
contour({
  name: "Cc", l: 661.7, r: 857.3, t: 874, b: 1195.7,
  yTitle: [596, 1031.7], xTitle: [796, 1252.7], namePos: [886, 903.3],
  layers: [[cGray, GRAY], [cGreen, GREEN], [cRedB, RED], [cRedA, RED], [cYellowB, YELLOW], [cYellowA, YELLOW], [cCyan, CYAN], [cPurple, PURPLE]],
  lines: [
    [cThin, "#008000", 1],
    [cLineL, "#000080", 1.5],
    [cLineG, "#00c000", 1.3],
    [cLineR, "#000080", 1.5],
    [cLineG2, "#00c000", 1.3],
    [cFloorLine, "#008000", 1, 0.2],
    [cSquiggle, "#000080", 1],
  ],
  marks: [["b", 357.6, 274.7, 15], ["a", 350.4, 228.1, 15]],
});
contour({
  name: "Dd", l: 709.3, r: 905.3, t: 1303, b: 1624.7,
  yTitle: [650, 1466], xTitle: [810, 1675], namePos: [939.3, 1333.3],
  nameFont: `24px ${SANS}`, nameSpacing: "3px",
  layers: [[dGray, GRAY, "#008000"], [dGreen, GREEN], [dRed, RED], [dYellow, YELLOW], [dCyanB, CYAN], [dCyanA, CYAN], [dPurpleB, PURPLE], [dPurpleA, PURPLE]],
  lines: [
    [dStreak, "#000080", 1.5],
    [dStreakInner, "#a000a0", 1.3],
  ],
  arrow: { from: [782, 1593], to: [826, 1564] },
  marks: [["b", 361.6, 273.8, 17], ["a", 279.5, 212.6, 15]],
});

colorBar({ l: 961, r: 990.7, t: 49.3, b: 380, values: aBarValues, colors: barColors, top: [975, 34.3], bottom: [974.3, 393.3] });
colorBar({ l: 957.3, r: 986.7, t: 457.7, b: 787.7, values: bBarValues, colors: fullBarColors, top: [970.7, 445], bottom: [970.7, 801.7] });
colorBar({ l: 924, r: 953.3, t: 883.7, b: 1212.7, values: cBarValues, colors: fullBarColors, top: [936.7, 871.7], bottom: [936.7, 1226.7] });
colorBar({ l: 971.7, r: 1001, t: 1312.3, b: 1641.7, values: dBarValues, colors: dBarColors, top: [985, 1300], bottom: [985, 1655] });
</script>
</body>
</html>
